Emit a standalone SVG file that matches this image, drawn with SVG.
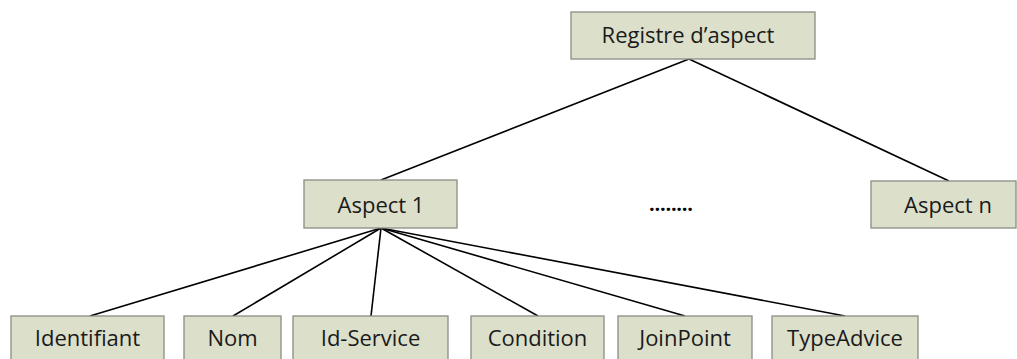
<svg xmlns="http://www.w3.org/2000/svg" width="1017" height="359" viewBox="0 0 1017 359">
<style>
.box{fill:#dcdfca;stroke:#8c8c84;stroke-width:1.3}
.lbl{font-family:"Open Sans","Noto Sans",sans-serif;font-size:22px;fill:#1a1a1a;text-anchor:middle}
.con line{stroke:#000;stroke-width:1.6}
</style>
<rect width="1017" height="359" fill="#fff"/>
<g class="con" id="connectors">
<line x1="689" y1="59" x2="381" y2="180"/>
<line x1="689" y1="59" x2="949" y2="181"/>
<line x1="381" y1="228" x2="90" y2="316"/>
<line x1="381" y1="228" x2="233" y2="316"/>
<line x1="381" y1="228" x2="371" y2="316"/>
<line x1="381" y1="228" x2="538" y2="316"/>
<line x1="381" y1="228" x2="685" y2="316"/>
<line x1="381" y1="228" x2="845" y2="316"/>
</g>
<g id="registre"><rect class="box" x="571" y="12" width="244" height="47"/><text class="lbl" x="688" y="43">Registre d’aspect</text></g>
<g id="aspect1"><rect class="box" x="304" y="180" width="153" height="48"/><text class="lbl" x="381" y="213">Aspect 1</text></g>
<g id="aspectn"><rect class="box" x="871" y="181" width="145" height="47"/><text class="lbl" x="948" y="213">Aspect n</text></g>
<g id="ellipsis"><text x="649" y="211" style="font-family:'Open Sans',sans-serif;font-size:20px;font-weight:bold;fill:#000" textLength="44">........</text></g>
<g id="identifiant"><rect class="box" x="11" y="316" width="153" height="50"/><text class="lbl" x="87.5" y="346">Identifiant</text></g>
<g id="nom"><rect class="box" x="184" y="316" width="97" height="50"/><text class="lbl" x="232.5" y="346">Nom</text></g>
<g id="idservice"><rect class="box" x="293" y="316" width="155" height="50"/><text class="lbl" x="370.5" y="346">Id-Service</text></g>
<g id="condition"><rect class="box" x="471" y="316" width="133" height="50"/><text class="lbl" x="537.5" y="346">Condition</text></g>
<g id="joinpoint"><rect class="box" x="618" y="316" width="134" height="50"/><text class="lbl" x="685" y="346">JoinPoint</text></g>
<g id="typeadvice"><rect class="box" x="772" y="316" width="146" height="50"/><text class="lbl" x="845" y="346">TypeAdvice</text></g>
</svg>
